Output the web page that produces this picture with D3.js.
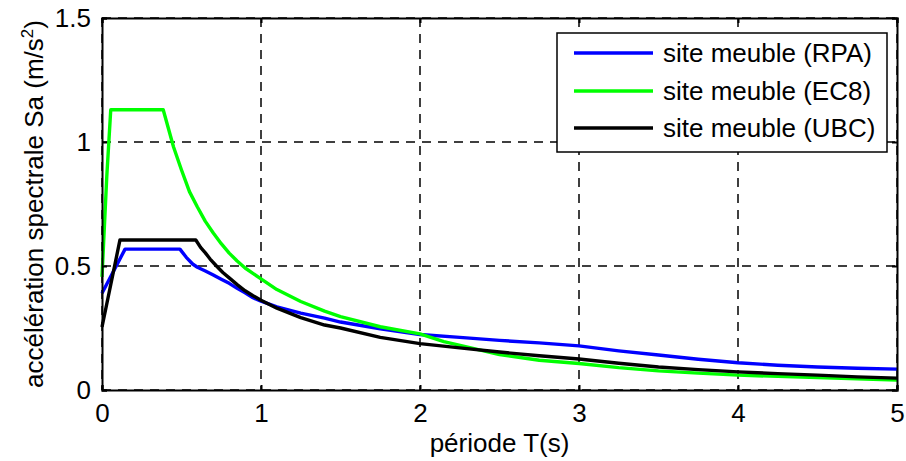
<html>
<head>
<script src="https://cdn.jsdelivr.net/npm/d3@7"></script>
<style>
  body { margin: 0; background: #fff; }
  text { font-family: "Liberation Sans", Arial, sans-serif; fill: #000; }
</style>
</head>
<body>
<div id="chart"></div>
<script>
// values
var seriesNames = ["site meuble (RPA)", "site meuble (EC8)", "site meuble (UBC)"];
var seriesColors = ["#0000ff", "#00ff00", "#000000"];

var rpaT = [0, 0.145, 0.49, 0.53, 0.57, 0.6, 0.65, 0.7, 0.75, 0.8, 0.85, 0.9, 0.95, 1.0, 1.1, 1.25, 1.4, 1.5, 1.75, 2.0, 2.25, 2.5, 2.75, 3.0, 3.25, 3.5, 3.75, 4.0, 4.25, 4.5, 4.75, 5.0];
var rpaSa = [0.39, 0.568, 0.568, 0.535, 0.508, 0.495, 0.48, 0.464, 0.447, 0.43, 0.41, 0.392, 0.372, 0.358, 0.335, 0.31, 0.29, 0.274, 0.247, 0.224, 0.212, 0.2, 0.19, 0.178, 0.158, 0.141, 0.124, 0.11, 0.1, 0.093, 0.088, 0.084];

var ec8T = [0, 0.03, 0.055, 0.385, 0.45, 0.5, 0.55, 0.6, 0.65, 0.7, 0.75, 0.8, 0.85, 0.9, 1.0, 1.1, 1.25, 1.4, 1.5, 1.75, 2.0, 2.15, 2.3, 2.5, 2.75, 3.0, 3.25, 3.5, 3.75, 4.0, 4.25, 4.5, 4.75, 5.0];
var ec8Sa = [0.456, 0.86, 1.13, 1.13, 0.98, 0.887, 0.8, 0.738, 0.68, 0.633, 0.59, 0.552, 0.52, 0.492, 0.448, 0.405, 0.357, 0.318, 0.296, 0.255, 0.226, 0.195, 0.173, 0.143, 0.12, 0.107, 0.09, 0.077, 0.068, 0.06, 0.055, 0.05, 0.045, 0.04];

var ubcT = [0, 0.113, 0.59, 0.62, 0.65, 0.68, 0.72, 0.76, 0.8, 0.85, 0.9, 0.95, 1.0, 1.1, 1.25, 1.4, 1.5, 1.75, 2.0, 2.25, 2.5, 2.75, 3.0, 3.25, 3.5, 3.75, 4.0, 4.25, 4.5, 4.75, 5.0];
var ubcSa = [0.254, 0.605, 0.605, 0.575, 0.553, 0.528, 0.5, 0.474, 0.452, 0.425, 0.4, 0.38, 0.362, 0.33, 0.292, 0.262, 0.25, 0.212, 0.187, 0.17, 0.153, 0.138, 0.125, 0.108, 0.093, 0.082, 0.073, 0.066, 0.06, 0.053, 0.048];

var xTicks = [0, 1, 2, 3, 4, 5];
var yTicks = [0, 0.5, 1, 1.5];

var W = 906, H = 461;
var margin = {top: 18, right: 9, bottom: 71, left: 102};
var width = W - margin.left - margin.right;
var height = H - margin.top - margin.bottom;

var svg = d3.select("#chart").append("svg")
  .attr("width", W)
  .attr("height", H);

var g = svg.append("g")
  .attr("transform", "translate(" + margin.left + "," + margin.top + ")");

var x = d3.scaleLinear().domain([0, 5]).range([0, width]);
var y = d3.scaleLinear().domain([0, 1.5]).range([height, 0]);

// dashed grid
g.append("g").selectAll("line").data(xTicks).enter().append("line")
  .attr("x1", function(d){ return x(d); }).attr("x2", function(d){ return x(d); })
  .attr("y1", 0).attr("y2", height)
  .attr("stroke", "#000").attr("stroke-width", 1.5).attr("stroke-dasharray", "9,7");
g.append("g").selectAll("line").data(yTicks).enter().append("line")
  .attr("x1", 0).attr("x2", width)
  .attr("y1", function(d){ return y(d); }).attr("y2", function(d){ return y(d); })
  .attr("stroke", "#000").attr("stroke-width", 1.5).attr("stroke-dasharray", "9,7");

// curves
var line = d3.line()
  .x(function(d){ return x(d[0]); })
  .y(function(d){ return y(d[1]); });

var allT = [rpaT, ec8T, ubcT];
var allSa = [rpaSa, ec8Sa, ubcSa];
for (var i = 0; i < 3; i++) {
  var pts = allT[i].map(function(t, j){ return [t, allSa[i][j]]; });
  g.append("path")
    .datum(pts)
    .attr("d", line)
    .attr("fill", "none")
    .attr("stroke", seriesColors[i])
    .attr("stroke-width", 3.4)
    .attr("stroke-linejoin", "round");
}

// axes with inward ticks, box
var fmt = function(d){ return d3.format("")(d); };
g.append("g").attr("transform", "translate(0," + height + ")")
  .call(d3.axisBottom(x).tickValues(xTicks).tickSize(-5).tickPadding(14).tickFormat(fmt));
g.append("g")
  .call(d3.axisLeft(y).tickValues(yTicks).tickSize(-5).tickPadding(11).tickFormat(fmt));
g.append("g")
  .call(d3.axisTop(x).tickValues(xTicks).tickSize(-5).tickFormat(""));
g.append("g").attr("transform", "translate(" + width + ",0)")
  .call(d3.axisRight(y).tickValues(yTicks).tickSize(-5).tickFormat(""));

g.selectAll(".domain").attr("stroke", "#000").attr("stroke-width", 2);
g.selectAll(".tick line").attr("stroke", "#000").attr("stroke-width", 2);
g.selectAll(".tick text").style("font-size", "26px").attr("fill", "#000");

// axis titles
svg.append("text")
  .attr("x", margin.left + width / 2)
  .attr("y", 452)
  .attr("text-anchor", "middle")
  .style("font-size", "26px")
  .text("période T(s)");

var yl = svg.append("text")
  .attr("transform", "translate(43," + (margin.top + height / 2) + ") rotate(-90)")
  .attr("text-anchor", "middle")
  .style("font-size", "26px");
yl.append("tspan").text("accélération spectrale Sa (m/s");
yl.append("tspan").attr("dy", -10).style("font-size", "17px").text("2");
yl.append("tspan").attr("dy", 10).text(")");

// legend
var lg = svg.append("g");
lg.append("rect")
  .attr("x", 557).attr("y", 33).attr("width", 330).attr("height", 119)
  .attr("fill", "#fff").attr("stroke", "#000").attr("stroke-width", 1.5);
var rowY = [53, 91, 128];
seriesNames.forEach(function(name, i){
  lg.append("line")
    .attr("x1", 574).attr("x2", 653)
    .attr("y1", rowY[i]).attr("y2", rowY[i])
    .attr("stroke", seriesColors[i]).attr("stroke-width", 3.4);
  lg.append("text")
    .attr("x", 663).attr("y", rowY[i] + 9)
    .style("font-size", "26px")
    .text(name);
});
</script>
</body>
</html>
